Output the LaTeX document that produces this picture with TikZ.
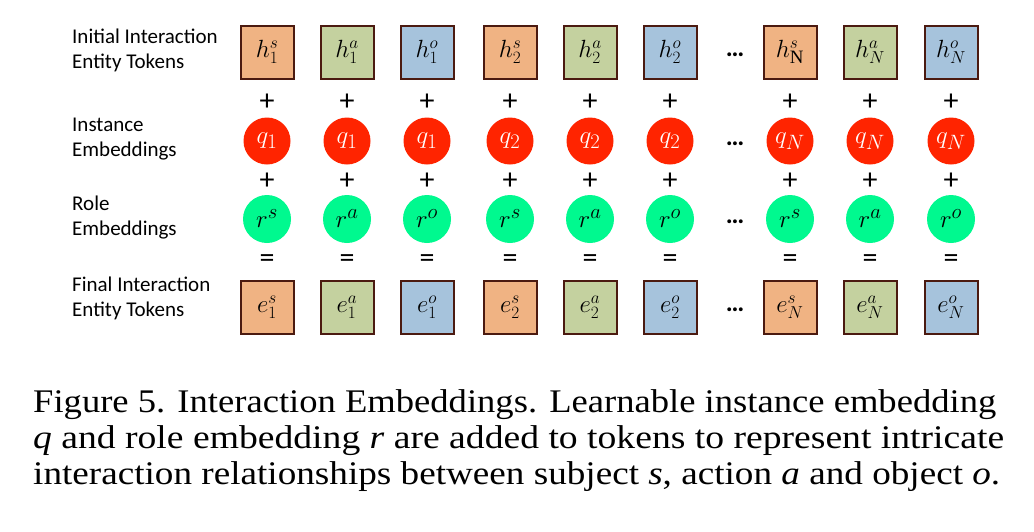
\documentclass[tikz,border=0pt]{standalone}
\usepackage{fontspec}
\usepackage{graphicx}
\setmainfont{Liberation Serif}
\newfontfamily\lblfont{Carlito}
\definecolor{tokS}{HTML}{F0B383}
\definecolor{tokA}{HTML}{C4D19F}
\definecolor{tokO}{HTML}{A6C3DC}
\definecolor{tokEdge}{HTML}{4B1A10}
\definecolor{instRed}{HTML}{FF2400}
\definecolor{roleGreen}{HTML}{00F98F}
\begin{document}
\begin{tikzpicture}[x=1pt,y=-1pt,
  tokbox/.style={draw=tokEdge,line width=2pt,minimum size=53pt,inner sep=0pt,font=\fontsize{27}{29}\selectfont},
  instdot/.style={circle,fill=instRed,minimum size=47pt,inner sep=0pt,text=white,font=\fontsize{30}{32}\selectfont},
  roledot/.style={circle,fill=roleGreen,minimum size=48pt,inner sep=0pt,font=\fontsize{31}{33}\selectfont},
  op/.style={inner sep=0pt,font=\lblfont\fontsize{30}{32}\selectfont},
  ellip/.style={inner sep=0pt,font=\lblfont\bfseries\fontsize{26}{28}\selectfont},
  rowlabel/.style={anchor=west,align=left,inner sep=0pt,font=\lblfont\fontsize{21}{25}\selectfont},
  capline/.style={anchor=base west,inner sep=0pt,font=\fontsize{33}{36}\selectfont}]
\useasboundingbox (0,0) rectangle (1034,531);

% row labels
\node[rowlabel] (lab1) at (72,50) {Initial Interaction\\Entity Tokens};
\node[rowlabel] (lab2) at (72,139) {Instance\\Embeddings};
\node[rowlabel] (lab3) at (72,218) {Role\\Embeddings};
\node[rowlabel] (lab4) at (72,298) {Final Interaction\\Entity Tokens};

% columns: index / x / role / colour / instance subscript
\foreach \i/\x/\r/\c/\n/\nh in {1/267/s/tokS/1/1, 2/347/a/tokA/1/1, 3/427/o/tokO/1/1,
                               4/510/s/tokS/2/2, 5/590/a/tokA/2/2, 6/670/o/tokO/2/2,
                               7/790/s/tokS/N/\mathrm{N}, 8/870/a/tokA/N/N, 9/951/o/tokO/N/N}{
  \node[tokbox,fill=\c] (h\i) at (\x,52) {$h_{\nh}^{\r}$};
  \node[op] (p\i) at (\x,102) {+};
  \node[instdot] (q\i) at (\x,141) {$q_{\n}$};
  \node[op] (pp\i) at (\x,181) {+};
  \node[roledot] (r\i) at (\x,219) {$r^{\r}$};
  \node[op] (eq\i) at (\x,261) {=};
  \node[tokbox,fill=\c] (e\i) at (\x,307) {$e_{\n}^{\r}$};
}

% ellipses between the second and the last triple
\foreach \y/\k in {55/a,144/b,222/c,310/d}{
  \node[ellip] (dots\k) at (735,\y) {…};
}

% caption
\node[capline] (cap1) at (33,412) {\resizebox{963pt}{\height}{Figure 5. Interaction Embeddings. Learnable instance embedding}};
\node[capline] (cap2) at (33,448) {\resizebox{971pt}{\height}{\textit{q} and role embedding \textit{r} are added to tokens to represent intricate}};
\node[capline] (cap3) at (33,484) {\resizebox{967pt}{\height}{interaction relationships between subject \textit{s}, action \textit{a} and object \textit{o}.}};
\end{tikzpicture}
\end{document}
